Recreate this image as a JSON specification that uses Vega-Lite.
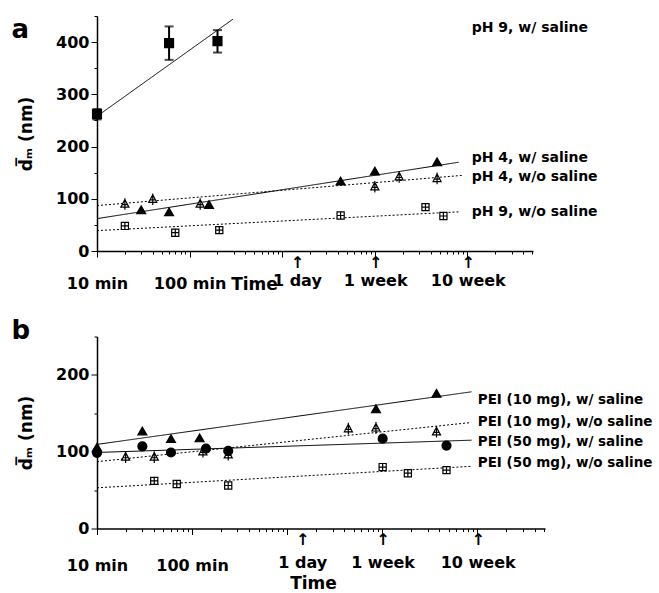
{
  "$schema": "https://vega.github.io/schema/vega-lite/v6.json",
  "background": "white",
  "padding": {"left": 11, "top": 15, "right": 2, "bottom": 0},
  "bounds": "flush",
  "spacing": 85.5,
  "resolve": {"scale": {"shape": "independent", "fill": "independent", "strokeDash": "independent"}},
  "config": {
    "view": {"stroke": null},
    "font": "DejaVu Sans",
    "axis": {
      "domainColor": "black", "domainWidth": 1.5, "tickColor": "black", "tickWidth": 1,
      "labelColor": "black", "titleColor": "black", "labelFont": "DejaVu Sans", "labelFontWeight": "bold",
      "labelFontSize": 16, "titleFont": "DejaVu Sans", "titleFontWeight": "bold", "grid": false
    },
    "title": {"font": "DejaVu Sans", "fontWeight": "bold", "fontSize": 26, "anchor": "start", "frame": "bounds", "color": "black"}
  },
  "datasets": {
    "a_points": [
      {"series": "pH 9, w/ saline", "t": 10, "v": 262, "lo": 252, "hi": 272},
      {"series": "pH 9, w/ saline", "t": 60, "v": 398, "lo": 366, "hi": 430},
      {"series": "pH 9, w/ saline", "t": 200, "v": 402, "lo": 380, "hi": 423},
      {"series": "pH 4, w/ saline", "t": 30, "v": 79},
      {"series": "pH 4, w/ saline", "t": 60, "v": 75},
      {"series": "pH 4, w/ saline", "t": 162, "v": 89},
      {"series": "pH 4, w/ saline", "t": 4270, "v": 134},
      {"series": "pH 4, w/ saline", "t": 10000, "v": 153},
      {"series": "pH 4, w/ saline", "t": 47000, "v": 171},
      {"series": "pH 4, w/o saline", "t": 20, "v": 90},
      {"series": "pH 4, w/o saline", "t": 40, "v": 99},
      {"series": "pH 4, w/o saline", "t": 130, "v": 90},
      {"series": "pH 4, w/o saline", "t": 10000, "v": 123},
      {"series": "pH 4, w/o saline", "t": 18300, "v": 142},
      {"series": "pH 4, w/o saline", "t": 47000, "v": 139},
      {"series": "pH 9, w/o saline", "t": 20, "v": 48},
      {"series": "pH 9, w/o saline", "t": 70, "v": 35},
      {"series": "pH 9, w/o saline", "t": 209, "v": 40},
      {"series": "pH 9, w/o saline", "t": 4270, "v": 68},
      {"series": "pH 9, w/o saline", "t": 35200, "v": 84},
      {"series": "pH 9, w/o saline", "t": 55000, "v": 67}
    ],
    "a_fits": [
      {"series": "pH 9, w/ saline", "t": 10, "v": 258},
      {"series": "pH 9, w/ saline", "t": 294, "v": 444},
      {"series": "pH 4, w/ saline", "t": 10, "v": 62},
      {"series": "pH 4, w/ saline", "t": 80500, "v": 170},
      {"series": "pH 4, w/o saline", "t": 10, "v": 87},
      {"series": "pH 4, w/o saline", "t": 91000, "v": 145},
      {"series": "pH 9, w/o saline", "t": 10, "v": 39},
      {"series": "pH 9, w/o saline", "t": 80500, "v": 75}
    ],
    "a_labels": [
      {"label": "pH 9, w/ saline", "t": 111000, "v": 427},
      {"label": "pH 4, w/ saline", "t": 111000, "v": 178},
      {"label": "pH 4, w/o saline", "t": 111000, "v": 141},
      {"label": "pH 9, w/o saline", "t": 111000, "v": 75}
    ],
    "b_points": [
      {"series": "PEI (10 mg), w/ saline", "t": 10, "v": 106},
      {"series": "PEI (10 mg), w/ saline", "t": 30, "v": 127},
      {"series": "PEI (10 mg), w/ saline", "t": 60, "v": 117},
      {"series": "PEI (10 mg), w/ saline", "t": 120, "v": 118},
      {"series": "PEI (10 mg), w/ saline", "t": 8590, "v": 156},
      {"series": "PEI (10 mg), w/ saline", "t": 37200, "v": 176},
      {"series": "PEI (10 mg), w/o saline", "t": 20, "v": 93},
      {"series": "PEI (10 mg), w/o saline", "t": 40, "v": 93},
      {"series": "PEI (10 mg), w/o saline", "t": 130, "v": 100},
      {"series": "PEI (10 mg), w/o saline", "t": 240, "v": 96},
      {"series": "PEI (10 mg), w/o saline", "t": 4400, "v": 130},
      {"series": "PEI (10 mg), w/o saline", "t": 8590, "v": 131},
      {"series": "PEI (10 mg), w/o saline", "t": 37200, "v": 126},
      {"series": "PEI (50 mg), w/ saline", "t": 10, "v": 98.5},
      {"series": "PEI (50 mg), w/ saline", "t": 30, "v": 107},
      {"series": "PEI (50 mg), w/ saline", "t": 60, "v": 99},
      {"series": "PEI (50 mg), w/ saline", "t": 140, "v": 104},
      {"series": "PEI (50 mg), w/ saline", "t": 240, "v": 101},
      {"series": "PEI (50 mg), w/ saline", "t": 10100, "v": 117},
      {"series": "PEI (50 mg), w/ saline", "t": 47400, "v": 108},
      {"series": "PEI (50 mg), w/o saline", "t": 40, "v": 62},
      {"series": "PEI (50 mg), w/o saline", "t": 69, "v": 58},
      {"series": "PEI (50 mg), w/o saline", "t": 240, "v": 56},
      {"series": "PEI (50 mg), w/o saline", "t": 10100, "v": 80},
      {"series": "PEI (50 mg), w/o saline", "t": 18600, "v": 72},
      {"series": "PEI (50 mg), w/o saline", "t": 47400, "v": 76}
    ],
    "b_fits": [
      {"series": "PEI (10 mg), w/ saline", "t": 10, "v": 109.5},
      {"series": "PEI (10 mg), w/ saline", "t": 86900, "v": 178},
      {"series": "PEI (10 mg), w/o saline", "t": 10, "v": 87},
      {"series": "PEI (10 mg), w/o saline", "t": 86000, "v": 138},
      {"series": "PEI (50 mg), w/ saline", "t": 10, "v": 99},
      {"series": "PEI (50 mg), w/ saline", "t": 86900, "v": 115},
      {"series": "PEI (50 mg), w/o saline", "t": 10, "v": 53},
      {"series": "PEI (50 mg), w/o saline", "t": 86900, "v": 81}
    ],
    "b_labels": [
      {"label": "PEI (10 mg), w/ saline", "t": 101000, "v": 166.7},
      {"label": "PEI (10 mg), w/o saline", "t": 101000, "v": 138.6},
      {"label": "PEI (50 mg), w/ saline", "t": 101000, "v": 112.7},
      {"label": "PEI (50 mg), w/o saline", "t": 101000, "v": 85.5}
    ]
  },
  "vconcat": [
    {
      "width": 436,
      "height": 235,
      "title": {"text": "a", "offset": -27, "dx": -6},
      "encoding": {
        "x": {
          "field": "t", "type": "quantitative",
          "scale": {"type": "log", "domain": [10, 510000], "nice": false},
          "axis": {
            "title": "Time", "titleFontSize": 17, "titleX": 157, "titleY": 38, "titleBaseline": "alphabetic", "titleAlign": "center",
            "values": [10,20,30,40,50,60,70,80,90,100,200,300,400,500,600,700,800,900,1000,2000,3000,4000,5000,6000,7000,8000,9000,10000,20000,30000,40000,50000,60000,70000,80000,90000,100000,200000,300000,400000,500000,1440,10080,100800],
            "labelExpr": "datum.value == 10 ? ['', '10 min'] : datum.value == 100 ? ['', '100 min'] : datum.value == 1440 ? ['↑', '1 day'] : datum.value == 10080 ? ['↑', '1 week'] : datum.value == 100800 ? ['↑', '10 week'] : ''",
            "labelLineHeight": 18, "labelOverlap": false, "labelFlush": false, "labelBound": false, "labelPadding": 0,
            "tickSize": {"condition": {"test": "datum.value == 10 || datum.value == 100 || datum.value == 1000 || datum.value == 10000 || datum.value == 100000", "value": 6}, "value": 3},
            "tickOpacity": {"condition": {"test": "datum.value == 1440 || datum.value == 10080 || datum.value == 100800", "value": 0}, "value": 1}
          }
        },
        "y": {
          "field": "v", "type": "quantitative",
          "scale": {"domain": [0, 450], "nice": false},
          "axis": {
            "title": "d̅ₘ (nm)", "titleFontSize": 17, "titlePadding": 20,
            "values": [0,50,100,150,200,250,300,350,400,450],
            "labelExpr": "datum.value % 100 == 0 ? datum.label : ''",
            "labelPadding": 2,
            "tickSize": {"condition": {"test": "datum.value % 100 == 0", "value": 6}, "value": 3}
          }
        }
      },
      "layer": [
        {
          "data": {"name": "a_fits"},
          "mark": {"type": "line", "color": "black", "strokeWidth": 1},
          "encoding": {
            "detail": {"field": "series", "type": "nominal"},
            "strokeDash": {"field": "series", "type": "nominal", "legend": null,
              "scale": {"domain": ["pH 9, w/ saline", "pH 4, w/ saline", "pH 4, w/o saline", "pH 9, w/o saline"], "range": [[1, 0], [1, 0], [2, 2], [2, 2]]}}
          }
        },
        {
          "data": {"name": "a_points"},
          "transform": [{"filter": "datum.series == 'pH 9, w/ saline'"}],
          "mark": {"type": "errorbar", "ticks": {"size": 9, "thickness": 2}, "color": "black", "thickness": 2},
          "encoding": {
            "y": {"field": "lo", "type": "quantitative", "scale": {"domain": [0, 450], "nice": false}},
            "y2": {"field": "hi"}
          }
        },
        {
          "data": {"name": "a_points"},
          "mark": {"type": "point", "stroke": "black", "strokeWidth": 1.2, "opacity": 1, "size": 80},
          "encoding": {
            "shape": {"field": "series", "type": "nominal", "legend": null,
              "scale": {"domain": ["pH 9, w/ saline", "pH 4, w/ saline", "pH 4, w/o saline", "pH 9, w/o saline"],
                "range": ["square", "triangle-up", "M0,-1L0.9,0.7L-0.9,0.7Z M0,-1.3L0,1.3 M-0.6,0.15L0.6,0.15", "M-0.8,-0.8L0.8,-0.8L0.8,0.8L-0.8,0.8Z M0,-0.8L0,0.8 M-0.8,0L0.8,0"]}},
            "fill": {"field": "series", "type": "nominal", "legend": null,
              "scale": {"domain": ["pH 9, w/ saline", "pH 4, w/ saline", "pH 4, w/o saline", "pH 9, w/o saline"], "range": ["black", "black", "white", "white"]}}
          }
        },
        {
          "data": {"name": "a_labels"},
          "mark": {"type": "text", "align": "left", "baseline": "middle", "font": "DejaVu Sans", "fontWeight": "bold", "fontSize": 14, "color": "black"},
          "encoding": {"text": {"field": "label", "type": "nominal"}}
        }
      ]
    },
    {
      "width": 448,
      "height": 192,
      "title": {"text": "b", "offset": -8, "dx": -6},
      "encoding": {
        "x": {
          "field": "t", "type": "quantitative",
          "scale": {"type": "log", "domain": [10, 515000], "nice": false},
          "axis": {
            "title": "Time", "titleFontSize": 17, "titleX": 216, "titleY": 60, "titleBaseline": "alphabetic", "titleAlign": "center",
            "values": [10,20,30,40,50,60,70,80,90,100,200,300,400,500,600,700,800,900,1000,2000,3000,4000,5000,6000,7000,8000,9000,10000,20000,30000,40000,50000,60000,70000,80000,90000,100000,200000,300000,400000,500000,1440,10080,100800],
            "labelExpr": "datum.value == 10 ? ['', '10 min'] : datum.value == 100 ? ['', '100 min'] : datum.value == 1440 ? ['↑', '1 day'] : datum.value == 10080 ? ['↑', '1 week'] : datum.value == 100800 ? ['↑', '10 week'] : ''",
            "labelLineHeight": 23, "labelOverlap": false, "labelFlush": false, "labelBound": false, "labelPadding": 0,
            "tickSize": {"condition": {"test": "datum.value == 10 || datum.value == 100 || datum.value == 1000 || datum.value == 10000 || datum.value == 100000", "value": 6}, "value": 3},
            "tickOpacity": {"condition": {"test": "datum.value == 1440 || datum.value == 10080 || datum.value == 100800", "value": 0}, "value": 1}
          }
        },
        "y": {
          "field": "v", "type": "quantitative",
          "scale": {"domain": [0, 250], "nice": false},
          "axis": {
            "title": "d̅ₘ (nm)", "titleFontSize": 17, "titlePadding": 20,
            "values": [0,50,100,150,200,250],
            "labelExpr": "datum.value % 100 == 0 ? datum.label : ''",
            "labelPadding": 2,
            "tickSize": {"condition": {"test": "datum.value % 100 == 0", "value": 6}, "value": 3}
          }
        }
      },
      "layer": [
        {
          "data": {"name": "b_fits"},
          "mark": {"type": "line", "color": "black", "strokeWidth": 1},
          "encoding": {
            "detail": {"field": "series", "type": "nominal"},
            "strokeDash": {"field": "series", "type": "nominal", "legend": null,
              "scale": {"domain": ["PEI (10 mg), w/ saline", "PEI (10 mg), w/o saline", "PEI (50 mg), w/ saline", "PEI (50 mg), w/o saline"], "range": [[1, 0], [2, 2], [1, 0], [2, 2]]}}
          }
        },
        {
          "data": {"name": "b_points"},
          "mark": {"type": "point", "stroke": "black", "strokeWidth": 1.2, "opacity": 1, "size": 80},
          "encoding": {
            "shape": {"field": "series", "type": "nominal", "legend": null,
              "scale": {"domain": ["PEI (10 mg), w/ saline", "PEI (10 mg), w/o saline", "PEI (50 mg), w/ saline", "PEI (50 mg), w/o saline"],
                "range": ["triangle-up", "M0,-1L0.9,0.7L-0.9,0.7Z M0,-1.3L0,1.3 M-0.6,0.15L0.6,0.15", "circle", "M-0.8,-0.8L0.8,-0.8L0.8,0.8L-0.8,0.8Z M0,-0.8L0,0.8 M-0.8,0L0.8,0"]}},
            "fill": {"field": "series", "type": "nominal", "legend": null,
              "scale": {"domain": ["PEI (10 mg), w/ saline", "PEI (10 mg), w/o saline", "PEI (50 mg), w/ saline", "PEI (50 mg), w/o saline"], "range": ["black", "white", "black", "white"]}}
          }
        },
        {
          "data": {"name": "b_labels"},
          "mark": {"type": "text", "align": "left", "baseline": "middle", "font": "DejaVu Sans", "fontWeight": "bold", "fontSize": 13.5, "color": "black"},
          "encoding": {"text": {"field": "label", "type": "nominal"}}
        }
      ]
    }
  ]
}
